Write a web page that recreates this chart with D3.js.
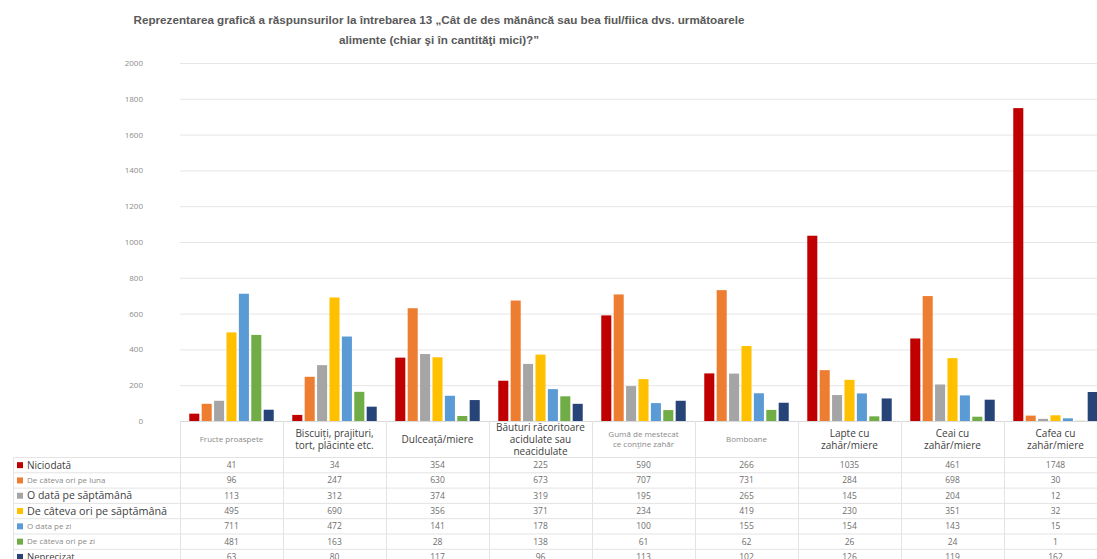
<!DOCTYPE html>
<html>
<head>
<meta charset="utf-8">
<script src="https://cdn.jsdelivr.net/npm/d3@7"></script>
<style>
  body { margin: 0; background: #fff; overflow: hidden; }
  svg { display: block; }
</style>
</head>
<body>
<svg width="1097" height="559"></svg>
<script>
// chart data
var categories = [
    ['Fructe proaspete'],
    ['Biscuiți, prajituri,', 'tort, plăcinte etc.'],
    ['Dulceață/miere'],
    ['Băuturi răcoritoare', 'acidulate sau', 'neacidulate'],
    ['Gumă de mestecat', 'ce conține zahăr'],
    ['Bomboane'],
    ['Lapte cu', 'zahăr/miere'],
    ['Ceai cu', 'zahăr/miere'],
    ['Cafea cu', 'zahăr/miere']
];
var seriesNames = ['Niciodată', 'De câteva ori pe luna', 'O dată pe săptămână',
    'De câteva ori pe săptămână', 'O data pe zi', 'De câteva ori pe zi', 'Neprecizat'];

var niciodata    = [41, 34, 354, 225, 590, 266, 1035, 461, 1748];
var pePeLuna     = [96, 247, 630, 673, 707, 731, 284, 698, 30];
var odataSapt    = [113, 312, 374, 319, 195, 265, 145, 204, 12];
var deCatevaSapt = [495, 690, 356, 371, 234, 419, 230, 351, 32];
var odataZi      = [711, 472, 141, 178, 100, 155, 154, 143, 15];
var deCatevaZi   = [481, 163, 28, 138, 61, 62, 26, 24, 1];
var neprecizat   = [63, 80, 117, 96, 113, 102, 126, 119, 162];

var yTicks = [0, 200, 400, 600, 800, 1000, 1200, 1400, 1600, 1800, 2000];

var titleLines = [
    'Reprezentarea grafică a răspunsurilor la întrebarea 13 „Cât de des mănâncă sau bea fiul/fiica dvs. următoarele',
    'alimente (chiar şi în cantităţi mici)?”'
];

var values = [niciodata, pePeLuna, odataSapt, deCatevaSapt, odataZi, deCatevaZi, neprecizat];
var colors = ['#c00000', '#ed7d31', '#a5a5a5', '#ffc000', '#5b9bd5', '#70ad47', '#264478'];

// text styles for the (oddly mixed) labels of the table
var rowStyle = [
    {size: 10, fill: '#404040'}, {size: 8, fill: '#8a8a8a'}, {size: 10.5, fill: '#404040'},
    {size: 10.8, fill: '#404040'}, {size: 8, fill: '#8a8a8a'}, {size: 8, fill: '#8a8a8a'},
    {size: 9.5, fill: '#404040'}
];
var catStyle = [
    {size: 8, fill: '#8a8a8a'}, {size: 10, fill: '#404040'}, {size: 10, fill: '#404040'},
    {size: 10, fill: '#404040'}, {size: 8, fill: '#8a8a8a'}, {size: 8, fill: '#8a8a8a'},
    {size: 10, fill: '#404040'}, {size: 10, fill: '#404040'}, {size: 10, fill: '#404040'}
];

var svg = d3.select('svg');
var font = "'Open Sans', sans-serif";

var plot = {l: 180, t: 63, b: 421, step: 103};
var plotRight = plot.l + plot.step * categories.length;

var x0 = d3.scaleBand()
    .domain(d3.range(categories.length))
    .range([plot.l, plotRight])
    .paddingInner(0.18)
    .paddingOuter(0.09);
var x1 = d3.scaleBand()
    .domain(d3.range(seriesNames.length))
    .range([0, x0.bandwidth()])
    .paddingInner(0.19);
var y = d3.scaleLinear().domain([0, 2000]).range([plot.b, plot.t]);

// title: size the font so the first line is ~612px wide, both lines centred
var title = svg.append('g').attr('font-family', "'Liberation Sans', Arial, sans-serif")
    .attr('font-weight', 'bold').attr('fill', '#595959').attr('font-size', 12);
var t1 = title.append('text').attr('x', 439).attr('y', 24).attr('text-anchor', 'middle').text(titleLines[0]);
var fs = 12 * 612 / t1.node().getComputedTextLength();
title.attr('font-size', fs);
title.append('text').attr('x', 439).attr('y', 44).attr('text-anchor', 'middle').text(titleLines[1]);

// gridlines + y axis
var yAxis = svg.append('g')
    .attr('transform', 'translate(' + [plot.l, 0] + ')')
    .call(d3.axisLeft(y).tickValues(yTicks)
        .tickSize(-(plotRight - plot.l))
        .tickPadding(37)
        .tickFormat(d3.format('d')));
yAxis.select('.domain').remove();
yAxis.selectAll('line').attr('stroke', '#e6e6e6');
yAxis.selectAll('text').attr('font-family', font).attr('font-size', 8).attr('fill', '#8c8c8c');

// bars
var groups = svg.append('g').selectAll('g')
    .data(categories)
    .enter().append('g')
    .attr('transform', function(d, i) { return 'translate(' + [x0(i), 0] + ')'; });
groups.selectAll('rect')
    .data(function(d, i) { return values.map(function(s, k) { return {k: k, v: s[i]}; }); })
    .enter().append('rect')
    .attr('x', function(d) { return x1(d.k); })
    .attr('width', x1.bandwidth())
    .attr('y', function(d) { return y(d.v); })
    .attr('height', function(d) { return plot.b - y(d.v); })
    .attr('fill', function(d) { return colors[d.k]; });

// data table
var rowTop = 457.5, rowH = 15.3, tableLeft = 13.5;
var table = svg.append('g');
var lineCol = '#e3e3e3';

table.append('line').attr('x1', plot.l).attr('x2', 1097).attr('y1', plot.b + 0.5).attr('y2', plot.b + 0.5)
    .attr('stroke', '#d9d9d9');
d3.range(seriesNames.length + 1).forEach(function(r) {
    table.append('line').attr('x1', tableLeft).attr('x2', 1097)
        .attr('y1', rowTop + r * rowH).attr('y2', rowTop + r * rowH)
        .attr('stroke', lineCol);
});
table.append('line').attr('x1', tableLeft).attr('x2', tableLeft)
    .attr('y1', rowTop).attr('y2', 559).attr('stroke', lineCol);
d3.range(categories.length + 1).forEach(function(c) {
    var xx = plot.l + c * plot.step + 0.5;
    table.append('line').attr('x1', xx).attr('x2', xx)
        .attr('y1', plot.b).attr('y2', 559).attr('stroke', lineCol);
});

// category headers
categories.forEach(function(lines, i) {
    var cx = plot.l + (i + 0.5) * plot.step;
    var st = catStyle[i];
    var lh = st.size * 1.2;
    var cy = (plot.b + rowTop) / 2 - (lines.length - 1) * lh / 2;
    lines.forEach(function(t, j) {
        table.append('text').attr('x', cx).attr('y', cy + j * lh)
            .attr('dy', '0.35em').attr('text-anchor', 'middle')
            .attr('font-family', font).attr('font-size', st.size).attr('fill', st.fill)
            .text(t);
    });
});

// row labels + legend keys + values
seriesNames.forEach(function(name, k) {
    var cy = rowTop + (k + 0.5) * rowH;
    table.append('rect').attr('x', 17).attr('y', cy - 3).attr('width', 6).attr('height', 6)
        .attr('fill', colors[k]);
    table.append('text').attr('x', 27).attr('y', cy).attr('dy', '0.35em')
        .attr('font-family', font).attr('font-size', rowStyle[k].size).attr('fill', rowStyle[k].fill)
        .text(name);
    values[k].forEach(function(v, i) {
        table.append('text').attr('x', plot.l + (i + 0.5) * plot.step).attr('y', cy)
            .attr('dy', '0.35em').attr('text-anchor', 'middle')
            .attr('font-family', font).attr('font-size', 8.5).attr('fill', '#6e6e6e')
            .text(v);
    });
});
</script>
</body>
</html>
